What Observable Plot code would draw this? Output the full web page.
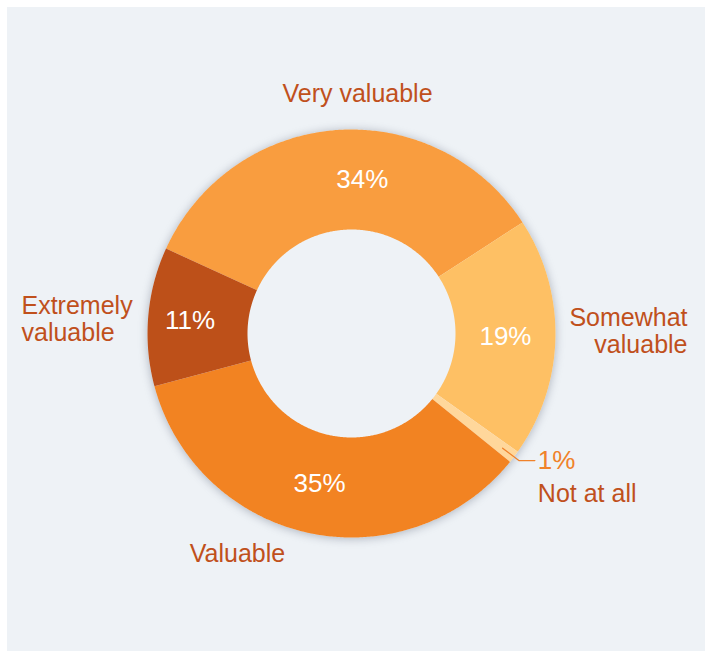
<!DOCTYPE html>
<html>
<head>
<meta charset="utf-8">
<script src="https://cdn.jsdelivr.net/npm/d3@7"></script>
<script src="https://cdn.jsdelivr.net/npm/@observablehq/plot@0.6"></script>
<style>
  html, body { margin: 0; padding: 0; background: #ffffff; }
  #panel {
    position: absolute; left: 7px; top: 7px; width: 698px; height: 644px;
    background: #eef2f6;
  }
  #panel svg { display: block; background: transparent; }
</style>
</head>
<body>
<div id="panel"></div>
<script>
// ---- data ----
const categories = ["Very valuable", "Somewhat valuable", "Not at all", "Valuable", "Extremely valuable"];
const labelLines = ["Very valuable", "Somewhat\nvaluable", "Not at all", "Valuable", "Extremely\nvaluable"];
const shares = [34, 19, 1, 35, 11];
const percentLabels = ["34%", "19%", "1%", "35%", "11%"];
const sliceColors = ["#f99d3f", "#fec064", "#ffd79b", "#f28322", "#bd5019"];

// ---- layout constants ----
const W = 698, H = 644;
const cx = 344, cy = 326;        // centre inside the svg
const Rpx = 204;                 // outer radius in px
const inner = 104 / 204;         // inner radius (unit)
const startAngle = -65.4;        // degrees, clockwise from 12 o'clock
const panelColor = "#eef2f6";
const textColor = "#c0501c";
const accentColor = "#f0822a";
const rad = d => d * Math.PI / 180;
const px = v => v / Rpx;         // px -> unit

// slices from shares
const total = d3.sum(shares);
let acc = startAngle;
const slices = categories.map((c, i) => {
  const a0 = acc, a1 = acc + shares[i] / total * 360;
  acc = a1;
  return {key: c, a0, a1, mid: (a0 + a1) / 2, i};
});

// polygon points of each annular sector
const ring = [];
for (const s of slices) {
  const n = Math.max(2, Math.ceil((s.a1 - s.a0) / 0.5));
  for (let k = 0; k <= n; k++) {
    const a = rad(s.a0 + (s.a1 - s.a0) * k / n);
    ring.push({key: s.key, x: Math.sin(a), y: Math.cos(a)});
  }
  for (let k = n; k >= 0; k--) {
    const a = rad(s.a0 + (s.a1 - s.a0) * k / n);
    ring.push({key: s.key, x: inner * Math.sin(a), y: inner * Math.cos(a)});
  }
}
// full disk for the shadow
const disk = d3.range(0, 361, 1).map(a => ({x: Math.sin(rad(a)), y: Math.cos(rad(a))}));

// percent labels at slice mid-angle on the ring centre
const pctNudge = {"Very valuable": [22, 0], "Extremely valuable": [-8, 0]};
const pctRadius = (1 + inner) / 2;
const pct = slices.filter(s => s.key !== "Not at all").map(s => {
  const nd = pctNudge[s.key] || [0, 0];
  return {
    text: percentLabels[s.i],
    x: pctRadius * Math.sin(rad(s.mid)) + px(nd[0]),
    y: pctRadius * Math.cos(rad(s.mid)) - px(nd[1])
  };
});

// leader for the thin slice
const thin = slices.find(s => s.key === "Not at all");
const lr1 = 0.93, lr2 = 1.03;
const bend = {x: lr2 * Math.sin(rad(thin.mid)), y: lr2 * Math.cos(rad(thin.mid))};
const leader = [
  {x: lr1 * Math.sin(rad(thin.mid)), y: lr1 * Math.cos(rad(thin.mid))},
  bend,
  {x: bend.x + px(16), y: bend.y}
];

// outer category labels
const outer = [
  {text: labelLines[0], x: px(6), y: px(240), anchor: "middle"},
  {text: labelLines[1], x: px(336), y: px(3), anchor: "end"},
  {text: labelLines[2], x: leader[2].x + px(3), y: leader[2].y - px(33), anchor: "start"},
  {text: labelLines[3], x: px(-114), y: px(-220), anchor: "middle"},
  {text: labelLines[4], x: px(-330), y: px(14.5), anchor: "start"}
];

const xs = {domain: [-1, 1], range: [cx - Rpx, cx + Rpx], axis: null};
const ys = {domain: [-1, 1], range: [cy + Rpx, cy - Rpx], axis: null};
const lab = {fill: textColor, fontSize: 25, lineHeight: 1.08};

const chart = Plot.plot({
  width: W, height: H,
  margin: 0,
  x: xs, y: ys,
  color: {domain: categories, range: sliceColors},
  style: {background: "transparent", fontFamily: "'Liberation Sans', Arial, sans-serif"},
  marks: [
    Plot.line(disk, {x: "x", y: "y", fill: panelColor, stroke: "none", curve: "linear-closed"}),
    Plot.line(ring, {x: "x", y: "y", z: "key", fill: "key", stroke: "none", curve: "linear-closed"}),
    Plot.line(leader, {x: "x", y: "y", stroke: accentColor, strokeWidth: 1.3}),
    Plot.text(pct, {x: "x", y: "y", text: "text", fill: "white", fontSize: 26}),
    Plot.text(outer.filter(d => d.anchor === "middle"), {x: "x", y: "y", text: "text", textAnchor: "middle", ...lab}),
    Plot.text(outer.filter(d => d.anchor === "start"), {x: "x", y: "y", text: "text", textAnchor: "start", ...lab}),
    Plot.text(outer.filter(d => d.anchor === "end"), {x: "x", y: "y", text: "text", textAnchor: "end", ...lab}),
    Plot.text([{text: percentLabels[2], x: leader[2].x + px(3), y: leader[2].y}], {x: "x", y: "y", text: "text", fill: accentColor, fontSize: 26, textAnchor: "start"})
  ]
});
document.getElementById("panel").appendChild(chart);
const lines = chart.querySelectorAll('g[aria-label="line"]');
if (lines[0]) lines[0].style.filter = "drop-shadow(0px 1px 5px rgba(90,100,120,0.45))";
</script>
</body>
</html>
